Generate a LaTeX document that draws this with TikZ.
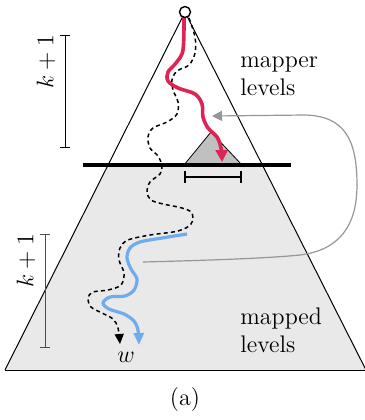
\documentclass[tikz,border=0pt]{standalone}
\usetikzlibrary{arrows.meta}
\definecolor{redpath}{RGB}{222,36,84}
\definecolor{bluepath}{RGB}{110,172,240}
\definecolor{lowfill}{RGB}{233,233,233}
\definecolor{subfill}{RGB}{192,192,192}
\definecolor{linkgray}{RGB}{150,150,150}
\tikzset{
  edgeline/.style={line width=0.5pt},
  levelbar/.style={line width=0.45pt,{Bar[width=5pt]}-{Bar[width=5pt]}},
  lbl/.style={font=\fontsize{12}{14}\selectfont,inner sep=0pt},
  walkred/.style={draw=redpath,line width=1.8pt,-{Triangle[length=6pt,width=6pt]}},
  walkblue/.style={draw=bluepath,line width=1.6pt,-{Triangle[length=6pt,width=5pt]}},
  walkdash/.style={line width=0.75pt,dash pattern=on 2pt off 1.6pt,-{Triangle[length=5pt,width=4.5pt]}},
  link/.style={draw=linkgray,line width=0.6pt,-{Triangle[length=5pt,width=5pt]}}
}
\begin{document}
\begin{tikzpicture}[x=0.5pt,y=-0.5pt]
\useasboundingbox (0,0) rectangle (365,420);
% coordinates
\coordinate (A) at (185,12);
\coordinate (BL) at (5,370);
\coordinate (BR) at (366,370);
\coordinate (CL) at (108.6,165);
\coordinate (CR) at (261.8,165);
% lower fill
\fill[lowfill] (CL) -- (CR) -- (BR) -- (BL) -- cycle;
% outline
\draw[edgeline] (BL) -- (A) -- (BR);
\draw[edgeline] (BL) -- (BR);
% small subtree
\coordinate (ST) at (211,132);
\coordinate (SL) at (184,165);
\coordinate (SR) at (242,165);
\filldraw[fill=subfill,draw=black,line width=0.4pt] (SL) -- (ST) -- (SR) -- cycle;
% separator
\coordinate (HL) at (83,165);
\coordinate (HR) at (291,165);
\draw[line width=1.6pt] (HL) -- (HR);
% interval under subtree
\coordinate (IL) at (184,177);
\coordinate (IR) at (242,177);
\draw[line width=0.8pt,{Bar[width=6pt]}-{Bar[width=6pt]}] (IL) -- (IR);
% level bars
\coordinate (U1) at (65,35);
\coordinate (U2) at (65,148);
\draw[levelbar] (U1) -- (U2);
\node[lbl,rotate=90] (ku) at (46,62) {$k+1$};
\coordinate (L1) at (45,234);
\coordinate (L2) at (45,348);
\draw[levelbar,draw=black!70] (L1) -- (L2);
\node[lbl,rotate=90] (kl) at (26,261) {$k+1$};
% dashed walk
\draw[walkdash] plot[smooth,tension=0.55] coordinates {(189,18) (195,37) (195,53) (189,65) (177,71) (172,80) (173,90) (178,102) (177,114) (167,122) (153,128) (148,137) (150,148) (158,156) (162,166) (160,174) (150,182) (147,192) (151,200) (163,204) (182,208) (192,213) (191,224) (178,231) (150,235) (128,240) (120,248) (119,260) (124,273) (121,285) (108,290) (93,292) (88,298) (91,307) (102,313) (113,319) (118,328) (120,344)};
% red walk
\draw[walkred] plot[smooth,tension=0.55] coordinates {(184,16) (183,50) (176,63) (168,72) (168,81) (178,88) (195,94) (202,104) (203,117) (208,128) (217,137) (221,148) (222,162)};
% blue walk
\draw[walkblue] plot[smooth,tension=0.55] coordinates {(187,234) (162,238) (140,242) (130,248) (127,258) (131,269) (137,279) (134,290) (125,296) (110,297) (103,303) (109,309) (124,314) (134,321) (138,330) (139,345)};
% gray link
\coordinate (g0) at (143,262);
\coordinate (g1) at (212,116);
\draw[link] (g0) .. controls (220,260) and (270,258) .. (300,255)
  .. controls (340,250) and (357,225) .. (357,185)
  .. controls (357,140) and (345,116) .. (305,115) -- (g1);
% root
\node[circle,draw,fill=white,line width=0.7pt,minimum size=5.5pt,inner sep=0pt] (root) at (A) {};
% labels
\node[lbl,align=left,anchor=west] (mapper) at (240,76) {mapper\\levels};
\node[lbl,align=left,anchor=west] (mapped) at (240,330) {mapped\\levels};
\node[lbl] (w) at (126,357) {$w$};
\node[lbl] (cap) at (185,400) {(a)};
\end{tikzpicture}
\end{document}
